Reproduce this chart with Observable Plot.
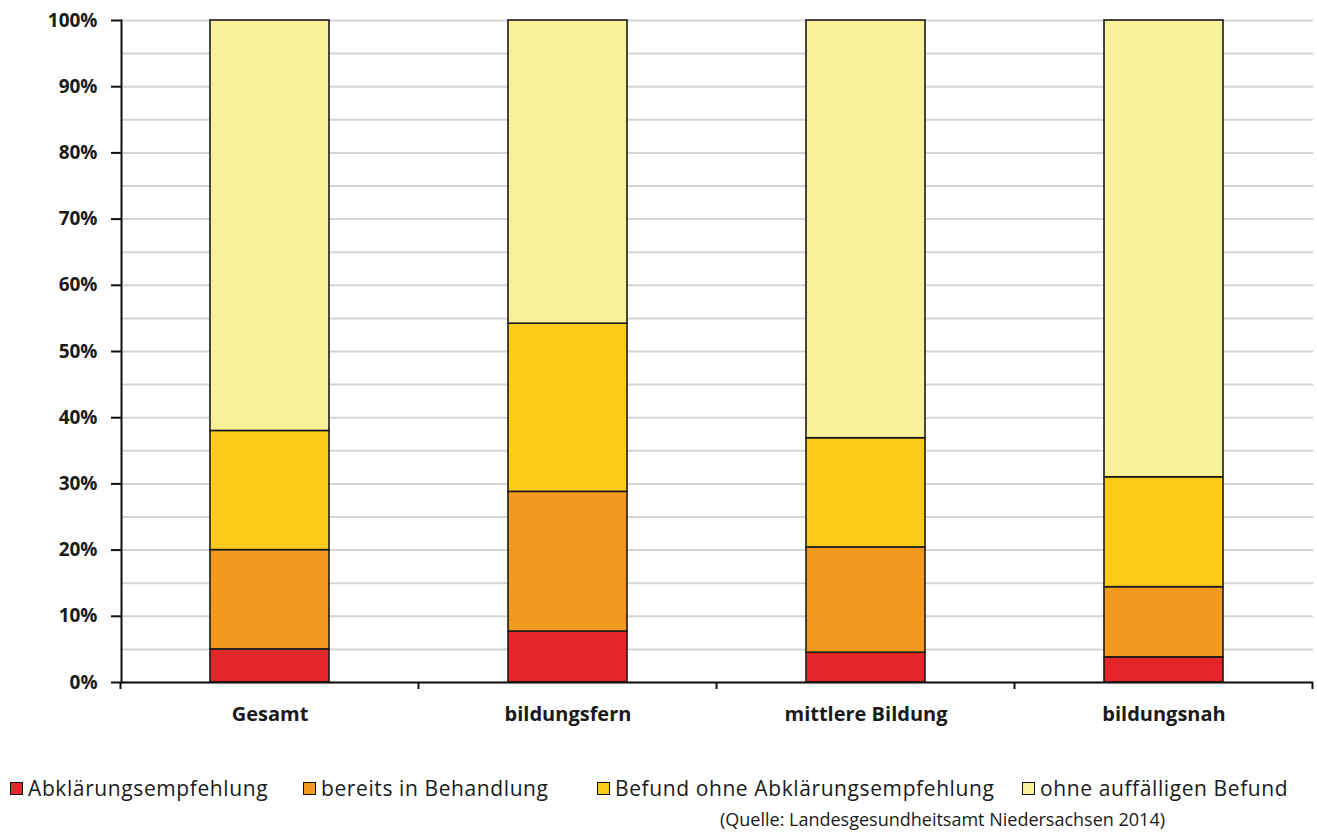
<!DOCTYPE html>
<html lang="de">
<head>
<meta charset="utf-8">
<script src="https://cdn.jsdelivr.net/npm/d3@7"></script>
<script src="https://cdn.jsdelivr.net/npm/@observablehq/plot@0.6"></script>
<style>
  html, body { margin: 0; padding: 0; background: #fff; }
  body { width: 1317px; height: 837px; position: relative; font-family: "Open Sans", Lato, sans-serif; color: #1a1a1a; }
  #chart svg { display: block; }
  .legend { position: absolute; left: 0; top: 776px; width: 1317px; height: 26px; font-size: 21px; line-height: 24px; white-space: nowrap; }
  .legend .item { position: absolute; top: 0; display: flex; align-items: center; letter-spacing: 0.6px; }
  .legend .sw { width: 11px; height: 11px; border: 1.5px solid #111; margin-right: 5px; box-sizing: content-box; }
  .caption { position: absolute; left: 720px; top: 807px; font-size: 18px; white-space: nowrap; }
</style>
</head>
<body>
<div id="chart"></div>
<div class="legend" id="legend"></div>
<div class="caption">(Quelle: Landesgesundheitsamt Niedersachsen 2014)</div>
<script>
// Categories along the x axis
const categories = ["Gesamt", "bildungsfern", "mittlere Bildung", "bildungsnah"];

// Series (bottom to top of each stack), shares in percent
const series = [
  "Abklärungsempfehlung",
  "bereits in Behandlung",
  "Befund ohne Abklärungsempfehlung",
  "ohne auffälligen Befund"
];
const abklaerung   = [5.0, 7.7, 4.5, 3.8];
const behandlung   = [15.0, 21.1, 15.9, 10.6];
const befundOhne   = [18.0, 25.4, 16.5, 16.6];
const ohneBefund   = [62.0, 45.8, 63.1, 69.0];

const colors = ["#e3262a", "#f39a1e", "#fdcb18", "#f9f09a"];
const yTicks = [0, 10, 20, 30, 40, 50, 60, 70, 80, 90, 100];
const gridLines = d3.range(0, 101, 5);

// Legend item left edges (px)
const legendLeft = [10, 303, 597, 1022];

// Long table for stacking
const seriesValues = [abklaerung, behandlung, befundOhne, ohneBefund];
const rows = [];
series.forEach((s, si) => {
  categories.forEach((c, ci) => rows.push({category: c, series: s, value: seriesValues[si][ci]}));
});

// Small downward ticks at the boundaries between categories
function categoryEdges(index, scales) {
  const x = scales.x;
  const step = x.step ? x.step() : 0;
  const bw = x.bandwidth ? x.bandwidth() : 0;
  const y0 = scales.y(0);
  const edges = categories.map(c => x(c) - (step - bw) / 2);
  edges.push(edges[edges.length - 1] + step);
  const g = d3.create("svg:g");
  g.selectAll("line").data(edges).join("line")
    .attr("x1", d => d).attr("x2", d => d)
    .attr("y1", y0).attr("y2", y0 + 7)
    .attr("stroke", "#111").attr("stroke-width", 2);
  return g.node();
}

const chart = Plot.plot({
  width: 1317,
  height: 735,
  marginTop: 20,
  marginBottom: 53,
  marginLeft: 121,
  marginRight: 4,
  style: {fontFamily: "'Open Sans', Lato, sans-serif", color: "#1a1a1a", background: "#fff"},
  x: {domain: categories, paddingInner: 0.6, paddingOuter: 0.3, label: null},
  y: {domain: [0, 100], label: null},
  color: {domain: series, range: colors},
  marks: [
    Plot.ruleY(gridLines, {stroke: "#d4d4d4", strokeWidth: 2}),
    Plot.rectY(rows, Plot.stackY({
      x: "category",
      y: "value",
      z: "series",
      fill: "series",
      stroke: "#1a1a1a",
      strokeWidth: 1.6
    })),
    Plot.axisY({ticks: yTicks, tickFormat: d => d + "%", tickSize: 10, tickPadding: 14,
      fontSize: 19, fontWeight: "bold", strokeWidth: 2, stroke: "#111"}),
    Plot.axisX({tickSize: 0, tickPadding: 24, fontSize: 20, fontWeight: "bold"}),
    Plot.frame({anchor: "left", stroke: "#111", strokeWidth: 2}),
    Plot.ruleY([0], {stroke: "#111", strokeWidth: 2}),
    categoryEdges
  ]
});
document.getElementById("chart").append(chart);

// Legend
const legend = document.getElementById("legend");
series.forEach((s, i) => {
  const item = document.createElement("div");
  item.className = "item";
  item.style.left = legendLeft[i] + "px";
  const sw = document.createElement("span");
  sw.className = "sw";
  sw.style.background = colors[i];
  const label = document.createElement("span");
  label.textContent = s;
  item.append(sw, label);
  legend.append(item);
});
</script>
</body>
</html>
